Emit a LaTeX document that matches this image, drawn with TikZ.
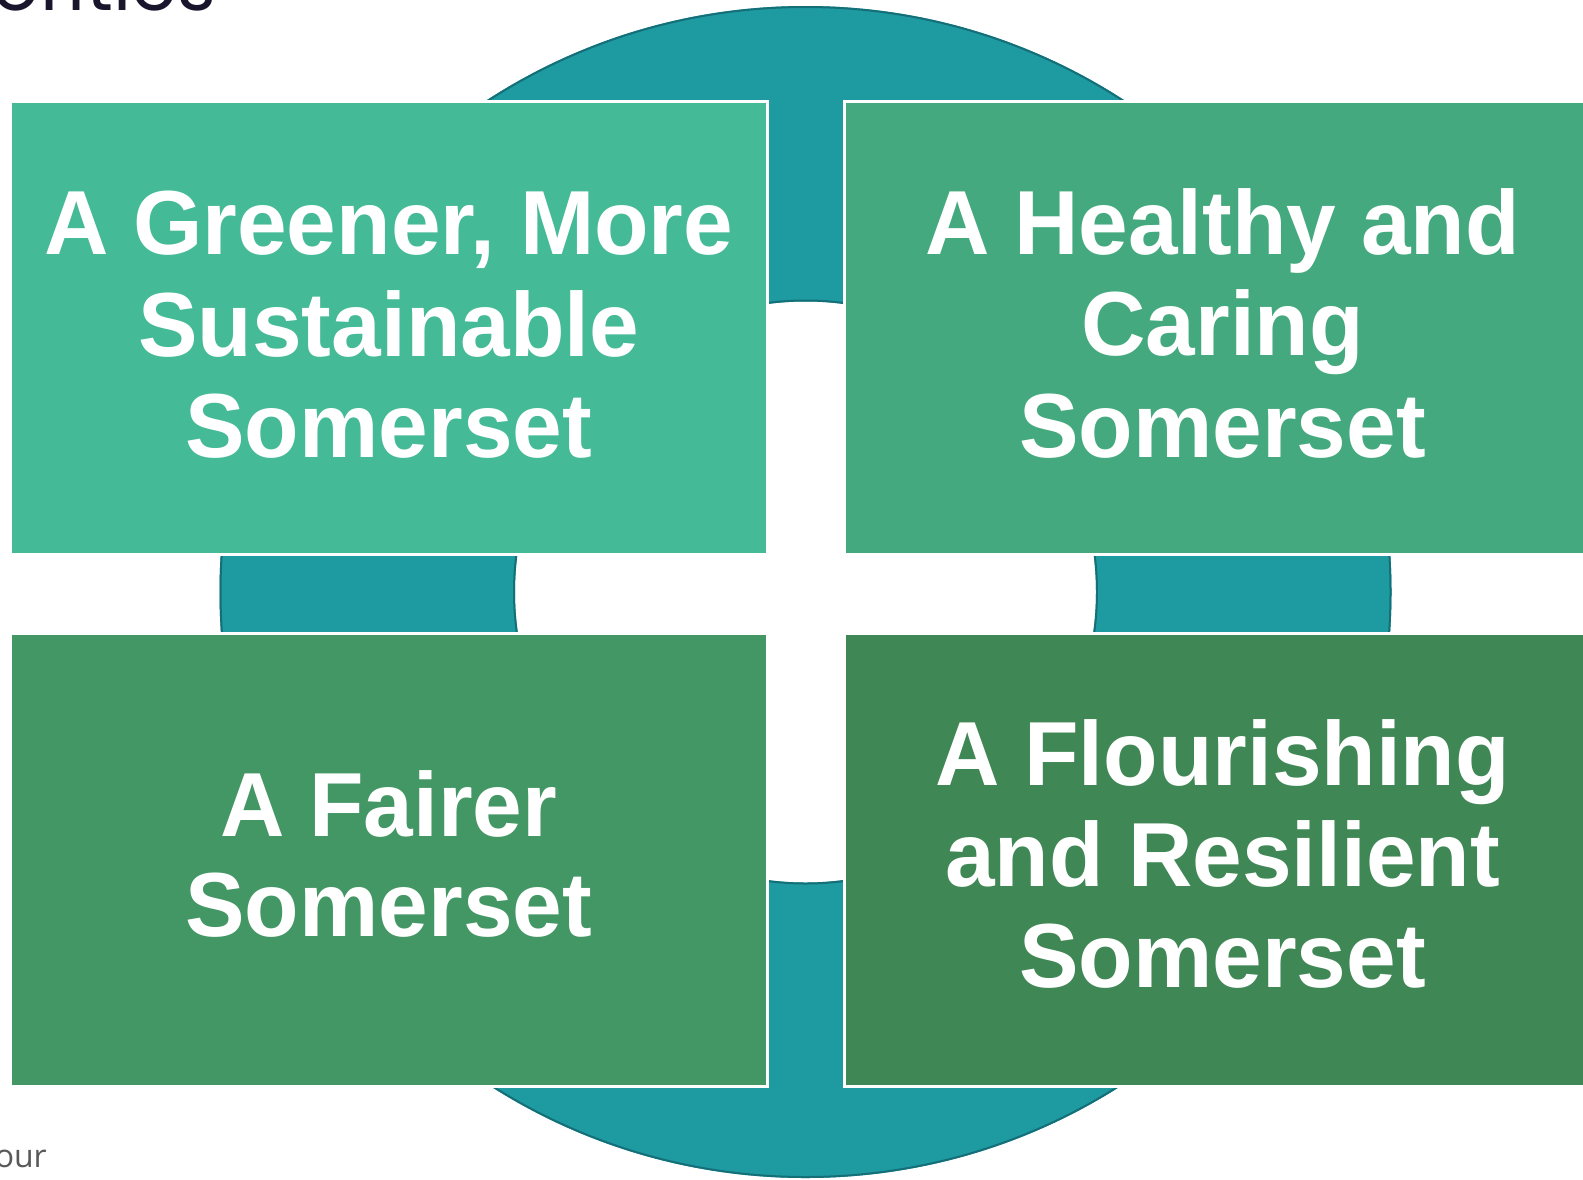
\documentclass[tikz,border=0pt]{standalone}
\usepackage{fontspec}
\newfontfamily\boxfont[FakeStretch=0.98]{Liberation Sans}
\newfontfamily\headfont{Poppins}
\newfontfamily\notefont{Open Sans}
\definecolor{tlc}{HTML}{44BA97}
\definecolor{trc}{HTML}{44A97E}
\definecolor{blc}{HTML}{439764}
\definecolor{brc}{HTML}{3F8754}
\definecolor{ringc}{HTML}{1E9BA1}
\definecolor{ringedge}{HTML}{156F78}
\definecolor{headc}{HTML}{18152C}
\definecolor{notec}{HTML}{595959}
\tikzset{
  panel/.style={draw=white, line width=3pt},
  boxtext/.style={text=white, font=\boxfont\bfseries\fontsize{91}{101}\selectfont, anchor=base, inner sep=0pt},
}
\begin{document}
\begin{tikzpicture}[x=1pt,y=-1pt]
\useasboundingbox (0,0) rectangle (1583,1179);
\clip (0,0) rectangle (1583,1179);
\coordinate (c) at (805.5,592);
% ring
\fill[ringc, even odd rule] (c) circle[radius=586pt] (c) circle[radius=290.5pt];
\draw[ringedge, line width=2pt] (c) circle[radius=585pt];
\draw[ringedge, line width=2pt] (c) circle[radius=291.5pt];
% panels
\fill[tlc] (10,101) rectangle (767,554);
\draw[panel] (10,101) rectangle (767,554);
\fill[trc] (844,101) rectangle (1600,554);
\draw[panel] (844,101) rectangle (1600,554);
\fill[blc] (10,633) rectangle (767,1086);
\draw[panel] (10,633) rectangle (767,1086);
\fill[brc] (844,633) rectangle (1600,1086);
\draw[panel] (844,633) rectangle (1600,1086);
% texts
\node[boxtext] (tl1) at (388.7,254.4) {A Greener, More};
\node[boxtext] (tl2) at (388.7,356.4) {Sustainable};
\node[boxtext] (tl3) at (388.7,457.3) {Somerset};
\node[boxtext] (tr1) at (1222.6,254.4) {A Healthy and};
\node[boxtext] (tr2) at (1222.6,355.4) {Caring};
\node[boxtext] (tr3) at (1222.6,457.3) {Somerset};
\node[boxtext] (bl1) at (388.7,836) {A Fairer};
\node[boxtext] (bl2) at (388.7,936.9) {Somerset};
\node[boxtext] (br1) at (1222.6,785.5) {A Flourishing};
\node[boxtext] (br2) at (1222.6,886.4) {and Resilient};
\node[boxtext] (br3) at (1222.6,987.4) {Somerset};
% partial texts at edges
\node[anchor=base east, inner sep=0pt, text=headc, font=\headfont\fontsize{74}{80}\selectfont] (head) at (216,10) {Priorities};
\node[anchor=base east, inner sep=0pt, text=notec, font=\notefont\fontsize{32}{38}\selectfont] (note) at (47,1167) {your};
\end{tikzpicture}
\end{document}
